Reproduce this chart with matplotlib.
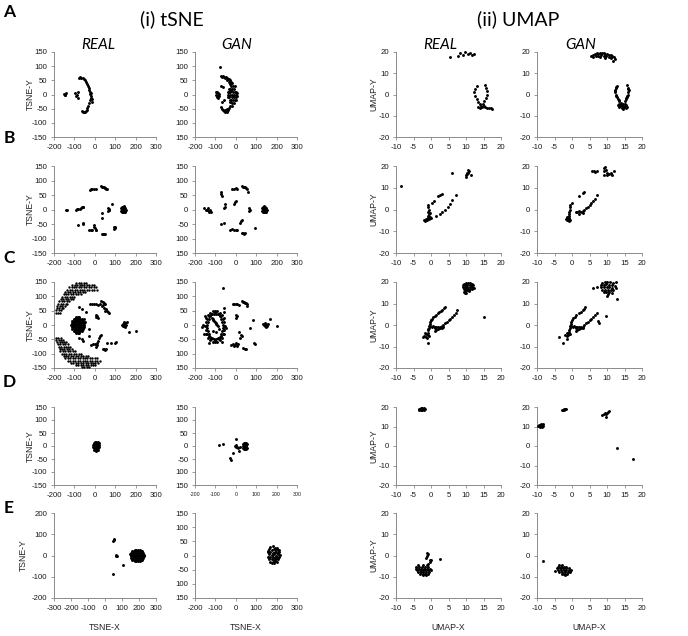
import matplotlib
matplotlib.use("Agg")
import matplotlib.pyplot as plt

plt.rcParams['font.family'] = ['Liberation Sans', 'DejaVu Sans']
plt.rcParams['axes.unicode_minus'] = False

# ---------------- ticks ----------------
tsne_x_ticks = [-200, -100, 0, 100, 200, 300]
tsne_x_ticks_e = [-300, -200, -100, 0, 100, 200, 300]
tsne_y_ticks = [-150, -100, -50, 0, 50, 100, 150]
tsne_y_labels_real = ['-150', '-100', '-50', '0', '50', '100', '150']
tsne_y_labels_gan = ['150', '100', '-50', '0', '50', '100', '150']
tsne_y_ticks_e = [-200, -100, 0, 100, 200]
umap_x_ticks = [-10, -5, 0, 5, 10, 15, 20]
umap_y_ticks = [-20, -10, 0, 10, 20]

row_letters = ['A', 'B', 'C', 'D', 'E']
method_titles = ['(i) tSNE', '(ii) UMAP']
column_titles = ['REAL', 'GAN', 'REAL', 'GAN']

# ---------------- data (x, y) ----------------
a_tsne_real = [(-150,3),(-147,0),(-143,5),(-145,-1),
    (-95,5),(-90,-4),(-86,0),(-84,-12),(-80,8),
    (-78,60),(-72,62),(-66,58),(-60,60),(-55,55),(-50,50),(-45,45),(-40,38),(-35,30),(-30,22),
    (-28,15),(-25,8),(-22,2),(-20,-5),(-18,-12),(-25,-20),(-15,-25),(-20,5),(-12,-15),(-28,-30),
    (-32,-40),(-36,-48),(-40,-55),(-45,-58),(-50,-60),(-55,-62),(-60,-60),(-65,-58)]

a_tsne_gan = [(-78,97),
    (-75,65),(-70,62),(-65,66),(-60,63),(-55,60),(-50,62),(-45,58),(-40,55),(-35,56),(-42,50),(-30,50),
    (-25,45),(-35,45),(-20,40),(-30,38),(-15,30),(-25,30),(-10,20),(-20,20),(-5,10),(-15,10),(-25,12),
    (0,0),(-10,0),(-20,0),(-30,0),(0,-10),(-10,-10),(-20,-10),(-5,-20),(-15,-20),(-25,-20),(-10,-30),
    (-20,-30),(-30,-28),(-20,-40),(-30,-40),(-35,-48),(-45,-52),(-40,-55),(-50,-58),(-55,-55),(-60,-58),
    (-65,-55),(-55,-62),(-45,-62),(-70,-50),(-72,-45),
    (-35,20),(-35,10),(-35,-10),(-30,10),(-30,20),(-30,-20),(-40,0),(-40,10),(-40,-10),(5,5),(5,-5),
    (0,10),(0,-20),(-5,30),
    (-95,8),(-90,10),(-85,5),(-95,0),(-88,-2),(-82,-5),(-92,-8),(-85,-12),(-80,2),
    (-64,25),(-60,-20),(-68,-25),(-72,30)]

a_umap_real = [(5.5,17.5),(7.8,18),(8.2,19.5),(9,18.5),(9.8,20),(10.5,19),(11,19.5),(11.8,18.5),(12.2,19),
    (13.0,4.0),(12.6,2.5),(12.4,1.0),(12.6,-0.5),(13.0,-2.0),(13.5,-3.5),(14.0,-4.5),
    (15.3,4.5),(15.6,3.0),(16.0,1.5),(16.0,0.0),(15.6,-1.5),(15.2,-3.0),(14.8,-4.5),
    (14.2,-5.5),(14.6,-6.0),(15.0,-5.5),(15.5,-6.0),(16.0,-6.2),(16.5,-6.3),(17.0,-6.5),(17.5,-6.8),
    (14.0,-6.2),(13.5,-5.8)]

a_umap_gan = [(5.5,18),(6,18.5),(6.5,19),(7,19.5),(7.5,19.2),(8,19.6),(8.5,19.3),(9,19.5),(9.5,19),
    (10,19.2),(10.5,18.8),(11,18.5),(11.5,18),(12,17.5),(6,17.5),(6.8,18),(7.5,18.2),(8.2,18.5),(9,18),
    (9.8,18.2),(10.5,17.8),(11.2,17.2),(12.3,16.5),(8,17.6),(9.5,17.3),(11.8,16),
    (12.8,4.0),(12.5,3.0),(12.3,2.0),(12.3,1.0),(12.5,0.0),(12.8,-1.0),(13.1,-2.0),(13.5,-3.0),
    (12.6,3.5),(12.4,1.5),(12.6,-0.5),(13.3,-2.5),
    (15.8,4.3),(16.0,3.2),(16.2,2.0),(16.1,1.0),(15.9,0.0),(15.6,-1.0),(15.3,-2.0),(15.0,-3.0),
    (16.1,2.6),(15.8,-0.5),(15.4,-1.5),
    (13.5,-4.5),(14,-4.2),(14.5,-4.5),(15,-4.3),(13.2,-5),(13.8,-5.2),(14.4,-5.5),(15,-5.3),(15.5,-5),
    (13.5,-5.8),(14.2,-6.2),(14.8,-6),(15.4,-6.5),(15.8,-5.8),(14.5,-7),(14,-5)]

b_tsne_real = [(-140,0),(-138,-3),
    (-90,0),(-85,1),(-80,2),(-75,3),(-70,5),(-65,7),(-60,10),(-58,8),
    (-80,-52),(-57,-45),(-57,-50),
    (-25,68),(-18,70),(-12,71),(-5,70),(5,71),
    (30,80),(35,79),(40,78),(45,76),(50,73),(55,72),(58,70),(48,75),
    (65,5),(68,0),(70,-3),(66,-5),(72,3),
    (35,-12),(33,-30),(85,20),
    (95,-62),(98,-65),(92,-66),(100,-62),
    (-30,-70),(-20,-70),(-12,-70),(-3,-60),(0,-65),(5,-72),(8,-70),(-5,-55),
    (35,-84),(40,-85),(45,-86),(48,-84),
    (130,5),(135,8),(140,10),(145,8),(150,5),(130,-5),(135,0),(140,0),(145,2),(150,-2),(135,-8),
    (140,-10),(145,-8),(150,-10),(138,4),(148,-5),(132,2),(143,-4),(155,0),(142,12)]

b_tsne_gan = [(-155,5),(-145,0),(-130,-5),(-125,0),(-135,5),(-120,-8),(-130,-10),(-140,-3),
    (-75,62),(-73,55),(-70,45),
    (-55,20),(-55,10),(-57,5),
    (-75,-50),(-60,-45),
    (-20,70),(-10,72),(0,75),(5,72),
    (30,80),(35,78),(40,76),(45,76),(50,74),(55,70),(60,60),
    (-5,25),(0,30),(-8,20),
    (65,5),(65,-5),(68,0),
    (30,-35),(25,-40),(20,-45),
    (-30,-70),(-20,-68),(-10,-70),(0,-72),(5,-70),
    (30,-80),(35,-82),(40,-85),(45,-82),
    (95,-65),
    (130,5),(135,8),(140,12),(145,8),(150,5),(130,-5),(135,0),(140,0),(145,2),(150,-2),(135,-8),
    (140,-10),(145,-8),(150,-10),(138,4),(148,-5),(132,2),(143,-4),(155,0)]

b_umap_real = [(-8.5,11),(6,17),
    (10,15),(10,16),(10.3,17),(10.5,18),(10.8,17.5),(10.2,16.5),(11.5,16),(10.5,17),
    (-2,-5),(-1.5,-4.5),(-1,-4),(-0.5,-4.5),(-1.8,-5.2),(-1.2,-5),(-0.8,-3.8),(-0.3,-3.5),(0,-4),(-1,-3),
    (-0.5,-2),(-0.8,-1),(-0.5,0),(-1,1),(-0.8,2),(-0.3,-1.5),
    (0.3,3),(0.8,4),(2,6.2),(2.5,6.8),(3.2,7.2),
    (1.5,-3),(2.5,-2),(3.2,-1),(4,0),(4.8,1),(5.5,2.5),(6,4.5),(7,6.5)]

b_umap_gan = [(5.8,17.5),(6.5,17.3),(7,17.5),(6.2,17.6),
    (9,19),(9.5,19.5),(9,17.5),(9.8,18),(10,17),(10.5,16.5),(11,17),(11.5,16),(12,17.5),(9.2,16),(10,15.8),
    (-1.5,-5),(-1.2,-4.5),(-0.8,-4),(-1.6,-4.2),(-1,-5.2),(-0.5,-4.8),(-1.3,-3.5),
    (-1,-3),(-0.8,-2),(-1,-1),(-0.7,0),(-0.5,1),(0,3),(-0.5,2),
    (2,6),(3,7.5),(3.5,8),
    (1,-1),(1.5,-1.2),(2,-0.8),(2.5,-1),(3,-0.5),(3.5,0),(4,0.5),(4.5,1.2),(5,2),(5.5,3),(6,4),
    (6.5,5),(7.2,6.5),(2,-2),(3,-1.5)]

c_tsne_real_upper = [
    (-90,147),(-78,147),(-66,147),(-54,147),(-42,147),
    (-111,139),(-99,139),(-87,139),(-75,139),(-63,139),(-51,139),(-39,139),(-27,139),(-15,139),(-3,139),
    (-126,131),(-114,131),(-102,131),(-90,131),(-78,131),(-66,131),(-54,131),(-42,131),(-30,131),(-18,131),(-6,131),(6,131),
    (-135,123),(-123,123),(-111,123),(-99,123),(-87,123),(-75,123),(-63,123),(-51,123),(-39,123),(-27,123),(-15,123),(-3,123),(9,123),
    (-144,115),(-132,115),(-120,115),(-108,115),(-96,115),(-84,115),(-72,115),(-60,115),(-48,115),
    (-153,107),(-141,107),(-129,107),(-117,107),(-105,107),(-93,107),(-81,107),(-69,107),
    (-160,99),(-148,99),(-136,99),(-124,99),(-112,99),(-100,99),
    (-167,91),(-155,91),(-143,91),(-131,91),(-119,91),(-107,91),
    (-174,83),(-162,83),(-150,83),(-138,83),(-126,83),
    (-179,75),(-167,75),(-155,75),(-143,75),(-135,75),
    (-183,67),(-171,67),(-159,67),(-147,67),
    (-186,59),(-174,59),(-162,59),(-154,59),
    (-188,51),(-176,51),(-164,51),
    (-190,43),(-178,43),(-170,43)]

c_tsne_real_lower = [
    (-190,-44),(-178,-44),(-168,-44),
    (-188,-52),(-176,-52),(-164,-52),(-156,-52),
    (-185,-60),(-173,-60),(-161,-60),(-149,-60),(-143,-60),
    (-181,-68),(-169,-68),(-157,-68),(-145,-68),(-133,-68),
    (-177,-76),(-165,-76),(-153,-76),(-141,-76),(-129,-76),(-121,-76),
    (-173,-84),(-161,-84),(-149,-84),(-137,-84),(-125,-84),(-113,-84),
    (-169,-92),(-157,-92),(-145,-92),(-133,-92),(-121,-92),(-109,-92),(-97,-92),
    (-163,-100),(-151,-100),(-139,-100),(-127,-100),(-115,-100),(-103,-100),(-91,-100),(-79,-100),(-67,-100),
    (-153,-108),(-141,-108),(-129,-108),(-117,-108),(-105,-108),(-93,-108),(-81,-108),(-69,-108),(-57,-108),(-45,-108),(-33,-108),
    (-144,-116),(-132,-116),(-120,-116),(-108,-116),(-96,-116),(-84,-116),(-72,-116),(-60,-116),(-48,-116),(-36,-116),(-24,-116),(-12,-116),(0,-116),(12,-116),
    (-132,-124),(-120,-124),(-108,-124),(-96,-124),(-84,-124),(-72,-124),(-60,-124),(-48,-124),(-36,-124),(-24,-124),(-12,-124),(0,-124),(12,-124),(24,-124),
    (-117,-132),(-105,-132),(-93,-132),(-81,-132),(-69,-132),(-57,-132),(-45,-132),(-33,-132),(-21,-132),(-9,-132),(3,-132),(15,-132),
    (-93,-140),(-81,-140),(-69,-140),(-57,-140),(-45,-140),(-33,-140),(-21,-140),(-9,-140),(3,-140),
    (-63,-148),(-51,-148),(-39,-148),(-27,-148)]

c_tsne_real_core = [
    (-92,28),(-84,28),(-76,28),
    (-104,21),(-96,21),(-88,21),(-80,21),(-72,21),(-64,21),
    (-110,14),(-102,14),(-94,14),(-86,14),(-78,14),(-70,14),(-62,14),(-56,14),
    (-114,7),(-106,7),(-98,7),(-90,7),(-82,7),(-74,7),(-66,7),(-58,7),(-52,7),
    (-116,0),(-108,0),(-100,0),(-92,0),(-84,0),(-76,0),(-68,0),(-60,0),(-52,0),
    (-114,-7),(-106,-7),(-98,-7),(-90,-7),(-82,-7),(-74,-7),(-66,-7),(-58,-7),(-52,-7),
    (-110,-14),(-102,-14),(-94,-14),(-86,-14),(-78,-14),(-70,-14),(-62,-14),(-56,-14),
    (-104,-21),(-96,-21),(-88,-21),(-80,-21),(-72,-21),(-64,-21),
    (-92,-28),(-84,-28),(-76,-28)]

c_tsne_real_other = [(-76,63),(-63,55),(-43,45),
    (-25,72),(-15,73),(-5,72),(5,72),(15,70),(25,73),
    (30,82),(38,80),(45,78),(50,75),(40,70),(35,65),(45,60),(55,55),(60,50),(65,45),(50,50),(70,42),
    (5,35),(10,30),(15,25),(8,28),
    (-51,22),(-46,12),(-30,-38),(-30,-15),
    (-76,-44),(-65,-50),(-60,-56),
    (-20,-70),(-10,-68),(0,-65),(10,-62),(15,-55),(20,-45),(25,-40),(30,-35),(10,-70),(5,-75),
    (40,-82),(45,-85),(50,-88),(55,-85),
    (62,-62),(79,-62),(100,-62),(105,-60),
    (140,5),(145,10),(150,8),(155,0),(150,-8),(145,-5),(140,-3),(135,0),(160,10),(148,0),
    (170,-25),(200,-20)]

c_tsne_gan_ring = [
    (-54,-5),(-56,9),(-60,23),(-68,34),(-78,43),(-90,48),(-102,50),(-114,48),(-126,43),(-136,34),(-144,23),(-148,9),
    (-150,-5),(-148,-19),(-144,-33),(-136,-44),(-126,-53),(-114,-58),(-102,-60),(-90,-58),(-78,-53),(-68,-44),(-60,-33),(-56,-19),
    (-64,1),(-67,12),(-72,22),(-79,31),(-87,37),(-97,40),(-107,40),(-117,37),(-125,31),(-132,22),(-137,12),(-140,1),
    (-140,-11),(-137,-22),(-132,-32),(-125,-41),(-117,-47),(-107,-50),(-97,-50),(-87,-47),(-79,-41),(-72,-32),(-67,-22),(-64,-11),
    (-59,-5),(-65,20),(-80,38),(-102,45),(-124,38),(-139,20),(-145,-5),(-139,-30),(-124,-48),(-102,-55),(-80,-48),(-65,-30),
    (-72,30),(-132,30),(-132,-40),(-72,-40),
    (-160,0),(-155,-30),(-130,-62),(-70,-60),(-152,30),(-60,45),(-50,-10),
    (-115,25),(-110,20),(-105,15),(-100,10),(-95,5),(-90,0),(-85,-5),(-80,-15),(-110,-20),(-95,-25),(-112,18),(-98,8)]

c_tsne_gan_other = [(-65,128),(-60,60),
    (-15,72),(-8,73),(0,72),(8,72),(15,71),
    (28,82),(33,80),(38,80),(43,78),(48,76),(53,72),(55,68),
    (0,35),(5,30),(3,25),(85,18),(70,-10),
    (18,-24),(25,-35),(30,-40),(22,-44),
    (-25,-70),(-15,-68),(-5,-70),(5,-72),(10,-66),(0,-62),(-10,-72),
    (35,-80),(45,-82),(50,-85),(90,-62),(95,-65),
    (140,0),(145,8),(150,5),(155,-3),(148,-8),(142,-5),(135,3),(150,0),(158,5),
    (170,22),(200,-5),(-165,-8)]

c_umap_real = [(9.3,19.2),(9.9,19.5),(10.5,19.6),(11.1,19.5),(11.7,19.2),
    (9.2,18.4),(9.8,18.6),(10.4,18.7),(11,18.6),(11.6,18.4),(12.1,18.5),
    (9.2,17.6),(9.8,17.7),(10.4,17.8),(11,17.7),(11.6,17.6),(12.2,17.4),
    (9.3,16.8),(9.9,16.9),(10.5,16.9),(11.1,16.8),(11.7,16.7),
    (9.6,16),(10.2,16.1),(10.8,16),(9.8,15),(10,14.8),(9.4,15.5),
    (15.2,3.6),
    (0,2.5),(0.3,3),(0.6,3.5),(1,4),(1.4,4.5),(2,5.5),(2.4,6),(2.8,6.6),(3.2,7.2),(3.6,7.8),(3.9,8.2),
    (1,-3),(1.5,-2.5),(2,-2),(2.5,-1.3),(3,-0.7),(3.5,0),(4,0.8),(4.5,1.5),(5,2.2),(5.5,3),(6,3.8),
    (6.5,4.8),(7,5.8),(7.3,6.8),
    (-0.3,-0.5),(0.3,-0.8),(1,-0.7),(1.5,-1),(2,-0.8),(2.5,-1),(3,-1.2),(3.5,-1),(0.5,-0.3),(1.2,-1.2),
    (2.2,-1.3),(3.2,-0.5),
    (-0.8,-2.5),(-0.7,-1.5),(-0.5,-0.5),(-0.4,0.5),(-0.2,1.5),(0,2.5),(-1,-2),
    (-2,-5),(-1.5,-5.5),(-1,-4.5),(-1.5,-4),(-0.8,-3.5),(-2.2,-5.8),(-1.2,-6),(-0.6,-5),(-1.8,-3.5),
    (-0.8,-8.2)]

c_umap_gan = [(8.5,19.5),(9.3,20),(10.1,19.8),(10.9,20),(11.6,19.4),(12.5,20),
    (8.2,18.5),(9,18.8),(9.8,18.9),(10.6,18.8),(11.4,18.6),(12.2,18.3),
    (8.3,17.5),(9.1,17.6),(9.9,17.6),(10.7,17.7),(11.5,17.4),(12.6,17),
    (8.6,16.5),(9.4,16.4),(10.2,16.5),(11,16.3),(11.8,16.1),
    (9,15.5),(9.8,15.3),(10.6,15.4),(11.3,15),(10.2,14.5),(10,13.5),
    (5.9,17.4),(7,17.5),(12.9,12.2),(9.7,4.4),(7.3,2),(7.8,0.8),
    (0,2.5),(0.4,3.2),(0.8,3.8),(1.2,4.5),(2,5.5),(2.5,6.2),(3,7),(3.5,7.6),(3.8,8.2),
    (1,-3),(1.5,-2.5),(2,-2),(2.5,-1.3),(3,-0.7),(3.5,0),(4,0.8),(4.5,1.5),(5,2.2),(5.5,3),(6,3.8),
    (6.5,4.8),(7,5.8),
    (-0.3,-0.5),(0.3,-0.8),(1,-0.7),(1.5,-1),(2,-0.8),(2.5,-1),(3,-1.2),(0.5,-0.3),(1.2,-1.2),(2.2,-1.3),
    (-0.8,-2.5),(-0.7,-1.5),(-0.5,-0.5),(-0.4,0.5),(-0.2,1.5),
    (-2,-4.5),(-1.5,-5),(-1,-4),(-1.5,-3.5),(-0.8,-3.2),(-1.2,-4.8),(-0.6,-4.2),
    (-3.8,-5.5),(-2.5,-8.3),(-1.5,-6.5)]

d_tsne_real = [(2,16),(8,17),(14,16),
    (-4,10),(2,10),(8,10),(14,10),(20,10),
    (-8,4),(-2,4),(4,4),(10,4),(16,4),(22,4),
    (-8,-2),(-2,-2),(4,-2),(10,-2),(16,-2),(22,-2),
    (-6,-8),(0,-8),(6,-8),(12,-8),(18,-8),
    (-2,-14),(4,-14),(10,-14),(16,-14),(8,-18)]

d_tsne_gan = [(38,12),(44,13),(50,12),(35,6),(41,6),(47,6),(53,6),(34,0),(40,0),(46,0),(52,0),
    (35,-6),(41,-6),(47,-6),(53,-6),(38,-12),(44,-13),(50,-12),
    (-80,2),(-62,8),(3,27),(0,3),(0,-5),(-3,-1),(5,-3),(12,-8),(18,-18),(20,-5),(-12,-28),(-28,-48),(-25,-52)]

d_umap_real = [(-3.5,19),(-3,19.5),(-2.5,19.6),(-2,19.4),(-1.7,19),(-2,18.5),(-2.5,18.3),(-3,18.4),
    (-3.4,18.7),(-2.6,18.9),(-2.2,19),(-2.9,19)]

d_umap_gan = [(-9.8,10.5),(-9.5,11),(-9,11.2),(-8.5,11),(-8.3,10.5),(-8.7,10),(-9.2,9.9),(-9.5,10.2),
    (-9,10.6),(-8.4,11.5),
    (-3,18.3),(-2.7,18.5),(-2.4,18.8),(-2,19),(-1.8,19.2),(-2.2,18.7),
    (8.7,15.8),(9.2,16.2),(9.6,16.5),(10,17),(10.3,17.3),(10.5,17.7),(9.8,15),(9.5,16.8),
    (12.8,-0.8),(17.3,-6.5)]

e_tsne_real = [(50,73),(55,78),(48,68),(65,2),(68,0),(62,-2),(45,-85),(105,-45),(145,5),(150,3),
    (175,28),(185,28),(195,28),(205,28),
    (160,20),(170,20),(180,20),(190,20),(200,20),(210,20),(220,20),
    (155,12),(165,12),(175,12),(185,12),(195,12),(205,12),(215,12),(225,12),
    (152,4),(162,4),(172,4),(182,4),(192,4),(202,4),(212,4),(222,4),(230,4),
    (152,-4),(162,-4),(172,-4),(182,-4),(192,-4),(202,-4),(212,-4),(222,-4),(230,-4),
    (155,-12),(165,-12),(175,-12),(185,-12),(195,-12),(205,-12),(215,-12),(225,-12),
    (160,-20),(170,-20),(180,-20),(190,-20),(200,-20),(210,-20),(220,-20),
    (175,-28),(185,-28),(195,-28),(205,-28)]

e_tsne_gan = [(170,30),(180,32),(190,28),(200,25),(165,22),(175,20),(185,22),(195,18),(205,20),
    (160,12),(170,12),(180,10),(190,14),(200,10),(210,12),(165,4),(175,2),(185,5),(195,0),(205,4),(215,2),
    (160,-4),(170,-6),(180,-4),(190,-8),(200,-5),(210,-6),(165,-14),(175,-12),(185,-15),(195,-12),(205,-14),
    (170,-22),(180,-24),(190,-20),(200,-22),(185,-28),(175,-28),(158,15),(212,20)]

e_umap_real = [(-3.8,-4.6),(-2.4,-4.6),(-1.2,-4.6),
    (-4.2,-5.4),(-3.4,-5.4),(-2.6,-5.4),(-1.8,-5.4),(-1.0,-5.4),
    (-4.4,-6.2),(-3.6,-6.2),(-2.8,-6.2),(-2.0,-6.2),(-1.2,-6.2),(-0.4,-6.2),
    (-4.0,-7.0),(-3.2,-7.0),(-2.4,-7.0),(-1.6,-7.0),(-0.8,-7.0),(0.0,-7.0),
    (-3.8,-7.8),(-3.0,-7.8),(-2.2,-7.8),(-1.4,-7.8),(-0.6,-7.8),
    (-3.2,-8.6),(-2.4,-8.6),(-1.6,-8.6),(-0.8,-8.6),
    (-2.2,-9.4),(-1.4,-9.4),
    (-1.1,1.4),(-1,0.5),(-1.2,-0.3),(-0.4,-2),(-0.2,-3),(-0.8,-4),(0,-2.2),(-1.3,-1.2),
    (2.7,-1.6)]

e_umap_gan = [(-8.3,-2.8),(-5,-7.2),
    (-3.6,-4.5),(-3.0,-4.5),
    (-4.0,-5.3),(-3.2,-5.3),(-2.4,-5.3),(-1.6,-5.3),
    (-4.2,-6.1),(-3.4,-6.1),(-2.6,-6.1),(-1.8,-6.1),(-1.0,-6.1),
    (-4.0,-6.9),(-3.2,-6.9),(-2.4,-6.9),(-1.6,-6.9),(-0.8,-6.9),(-0.3,-6.9),
    (-3.6,-7.7),(-2.8,-7.7),(-2.0,-7.7),(-1.2,-7.7),(-0.5,-7.7),
    (-3.0,-8.5),(-2.2,-8.5),(-1.4,-8.5),(-2.0,-9.0)]

# ---------------- layout ----------------
W, H = 688, 636
fig = plt.figure(figsize=(W / 100, H / 100), dpi=100)

col_left = [54, 195, 396, 537]
col_width = [102, 102, 105, 105]
row_top = [52, 166, 282, 407, 513]
row_height = [85, 87, 86, 78, 85]

AXIS_GRAY = '#8a8a8a'
TICK_FS = 5.6
MARKER_S = 4.4
LATTICE_S = 3.0


def rect(l, t, w, h):
    return [l / W, 1 - (t + h) / H, w / W, h / H]


def style(ax):
    for s in ['top', 'right']:
        ax.spines[s].set_visible(False)
    for s in ['left', 'bottom']:
        ax.spines[s].set_color(AXIS_GRAY)
        ax.spines[s].set_linewidth(0.7)
    ax.tick_params(direction='out', length=2.2, width=0.6, color=AXIS_GRAY,
                   labelsize=TICK_FS, labelcolor='#1a1a1a', pad=2.5)
    ax.patch.set_alpha(0)


def scatter(ax, pts, size):
    xs = [p[0] for p in pts]
    ys = [p[1] for p in pts]
    ax.scatter(xs, ys, s=size, c='black', linewidths=0, clip_on=False, zorder=3)


# (points, marker size)
panels = [
    [[(a_tsne_real, MARKER_S)], [(a_tsne_gan, MARKER_S)], [(a_umap_real, MARKER_S)], [(a_umap_gan, MARKER_S)]],
    [[(b_tsne_real, MARKER_S)], [(b_tsne_gan, MARKER_S)], [(b_umap_real, MARKER_S)], [(b_umap_gan, MARKER_S)]],
    [[(c_tsne_real_upper, LATTICE_S), (c_tsne_real_lower, LATTICE_S),
      (c_tsne_real_core, MARKER_S), (c_tsne_real_other, MARKER_S)],
     [(c_tsne_gan_ring, MARKER_S), (c_tsne_gan_other, MARKER_S)],
     [(c_umap_real, MARKER_S)], [(c_umap_gan, MARKER_S)]],
    [[(d_tsne_real, MARKER_S)], [(d_tsne_gan, MARKER_S)], [(d_umap_real, MARKER_S)], [(d_umap_gan, MARKER_S)]],
    [[(e_tsne_real, MARKER_S)], [(e_tsne_gan, MARKER_S)], [(e_umap_real, MARKER_S)], [(e_umap_gan, MARKER_S)]],
]

for r in range(5):
    for c in range(4):
        ax = fig.add_axes(rect(col_left[c], row_top[r], col_width[c], row_height[r]))
        style(ax)
        for pts, size in panels[r][c]:
            scatter(ax, pts, size)
        if c < 2:
            if r == 4 and c == 0:
                ax.set_xlim(-300, 300)
                ax.set_xticks(tsne_x_ticks_e)
                ax.set_xticklabels([str(v) for v in tsne_x_ticks_e])
                ax.set_ylim(-200, 200)
                ax.set_yticks(tsne_y_ticks_e)
                ax.set_yticklabels([str(v) for v in tsne_y_ticks_e])
            else:
                ax.set_xlim(-200, 300)
                ax.set_xticks(tsne_x_ticks)
                ax.set_xticklabels([str(v) for v in tsne_x_ticks])
                ax.set_ylim(-150, 150)
                ax.set_yticks(tsne_y_ticks)
                ax.set_yticklabels(tsne_y_labels_real if c == 0 else tsne_y_labels_gan)
            if r == 3 and c == 1:
                ax.tick_params(axis='x', labelsize=3.8)
        else:
            ax.set_xlim(-10, 20)
            ax.set_xticks(umap_x_ticks)
            ax.set_xticklabels([str(v) for v in umap_x_ticks])
            ax.set_ylim(-20, 20)
            ax.set_yticks(umap_y_ticks)
            ax.set_yticklabels([str(v) for v in umap_y_ticks])

        cy = row_top[r] + row_height[r] / 2
        if c == 0:
            lx = 23 if r == 4 else 30
            fig.text(lx / W, 1 - cy / H, 'TSNE-Y', rotation=90, ha='center', va='center',
                     fontsize=6.2, color='#222222')
        if c == 2:
            fig.text(374 / W, 1 - cy / H, 'UMAP-Y', rotation=90, ha='center', va='center',
                     fontsize=6.2, color='#222222')
        if r == 4:
            cx = col_left[c] + col_width[c] / 2
            fig.text(cx / W, 1 - 627 / H, 'TSNE-X' if c < 2 else 'UMAP-X',
                     ha='center', va='center', fontsize=6.2, color='#222222')

# titles
fig.text(172 / W, 1 - 19 / H, method_titles[0], ha='center', va='center',
         fontsize=14, family=['Lato', 'DejaVu Sans'])
fig.text(518 / W, 1 - 19 / H, method_titles[1], ha='center', va='center',
         fontsize=14, family=['Lato', 'DejaVu Sans'])
title_x = [98, 237, 440, 581]
for c in range(4):
    fig.text(title_x[c] / W, 1 - 45 / H, column_titles[c], ha='center', va='center',
             fontsize=11, style='italic', family=['Lato', 'DejaVu Sans'])

letter_y = [12, 138, 258, 382, 508]
for r in range(5):
    fig.text(9 / W, 1 - letter_y[r] / H, row_letters[r], ha='center', va='center',
             fontsize=12.5, fontweight='bold', family=['Lato', 'DejaVu Sans'])

fig.savefig('out.png', dpi=100)
